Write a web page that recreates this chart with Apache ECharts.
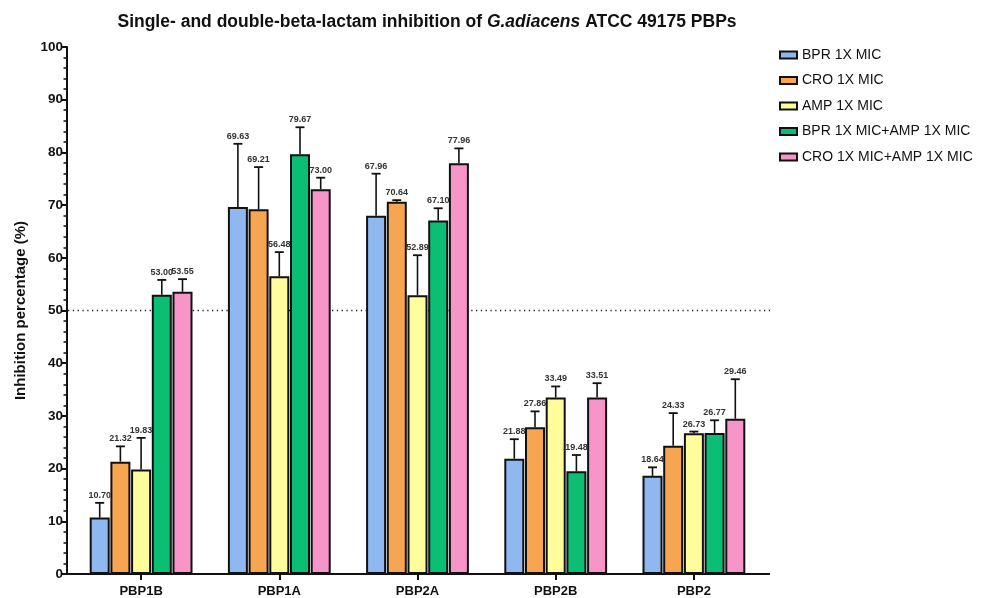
<!DOCTYPE html>
<html><head><meta charset="utf-8">
<script src="https://cdn.jsdelivr.net/npm/echarts@6/dist/echarts.min.js"></script>
<style>html,body{margin:0;padding:0;background:#fff}#c{width:981px;height:598px}</style>
</head><body><div id="c"></div>
<script>
const categories = ['PBP1B', 'PBP1A', 'PBP2A', 'PBP2B', 'PBP2'];
const seriesNames = ['BPR 1X MIC', 'CRO 1X MIC', 'AMP 1X MIC', 'BPR 1X MIC+AMP 1X MIC', 'CRO 1X MIC+AMP 1X MIC'];
const bpr = [10.70, 69.63, 67.96, 21.88, 18.64];
const bprErr = [2.8, 12.0, 8.0, 3.7, 1.6];
const cro = [21.32, 69.21, 70.64, 27.86, 24.33];
const croErr = [2.9, 8.0, 0.3, 3.0, 6.2];
const amp = [19.83, 56.48, 52.89, 33.49, 26.73];
const ampErr = [6.0, 4.6, 7.6, 2.1, 0.3];
const bprAmp = [53.00, 79.67, 67.10, 19.48, 26.77];
const bprAmpErr = [2.8, 5.1, 2.3, 3.1, 2.4];
const croAmp = [53.55, 73.00, 77.96, 33.51, 29.46];
const croAmpErr = [2.4, 2.2, 2.8, 2.7, 7.5];
const yTicks = [0, 10, 20, 30, 40, 50, 60, 70, 80, 90, 100];
const threshold = 50;

const values = [bpr, cro, amp, bprAmp, croAmp];
const errors = [bprErr, croErr, ampErr, bprAmpErr, croAmpErr];
const colors = ['#90B8F0', '#F8A552', '#FFFD9C', '#0CBE74', '#F794C8'];
const FONT = '"Liberation Sans", Arial, sans-serif';
const BAR_W = 20;
const BAR_GAP = 0.035;
const pitch = BAR_W * (1 + BAR_GAP);

const chart = echarts.init(document.getElementById('c'), null, {renderer: 'canvas'});

function makeErr(idx) {
  return function (params, api) {
    const c = api.value(0), v = api.value(1), e = api.value(2);
    const base = api.coord([c, v]);
    const top = api.coord([c, v + e]);
    const x = base[0] + (idx - (values.length - 1) / 2) * pitch;
    return {type: 'group', children: [
      {type: 'line', shape: {x1: x, y1: base[1], x2: x, y2: top[1]}, style: {stroke: '#111', lineWidth: 1.6}},
      {type: 'line', shape: {x1: x - 4.5, y1: top[1], x2: x + 4.5, y2: top[1]}, style: {stroke: '#111', lineWidth: 1.8}},
      {type: 'text', x: x, y: top[1] - 3, style: {text: v.toFixed(2), textAlign: 'center', textVerticalAlign: 'bottom', font: 'bold 9px ' + FONT, fill: '#333'}}
    ]};
  };
}

const series = [];
values.forEach((arr, i) => {
  series.push({
    name: seriesNames[i], type: 'bar', data: arr, barWidth: BAR_W, barGap: (BAR_GAP * 100) + '%',
    itemStyle: {color: colors[i], borderColor: '#111', borderWidth: 2},
    z: 3
  });
});
values.forEach((arr, i) => {
  series.push({
    name: 'err' + i, type: 'custom', renderItem: makeErr(i),
    data: arr.map((v, k) => [k, v, errors[i][k]]),
    encode: {x: 0, y: 1}, z: 4, silent: true
  });
});

chart.setOption({
  animation: false,
  backgroundColor: '#fff',
  title: {
    text: '{b|Single- and double-beta-lactam inhibition of }{i|G.adiacens}{b| ATCC 49175 PBPs}',
    left: 422, top: 8, textAlign: 'center',
    textStyle: {
      rich: {
        b: {fontFamily: FONT, fontWeight: 'bold', fontSize: 17.5, color: '#111'},
        i: {fontFamily: FONT, fontWeight: 'bold', fontStyle: 'italic', fontSize: 17.5, color: '#111'}
      }
    }
  },
  legend: {
    data: seriesNames, orient: 'vertical', left: 774, top: 43,
    itemWidth: 17, itemHeight: 7, itemGap: 11.5,
    textStyle: {fontFamily: FONT, fontSize: 14, color: '#111'},
    icon: 'rect'
  },
  grid: {left: 72, right: 218, top: 47, bottom: 24},
  xAxis: {
    type: 'category', data: categories,
    axisLine: {show: false},
    axisTick: {show: true, alignWithLabel: true, length: 6, lineStyle: {color: '#111', width: 2}},
    axisLabel: {fontFamily: FONT, fontWeight: 'bold', fontSize: 13, color: '#111', margin: 11}
  },
  yAxis: {
    type: 'value', min: 0, max: 100, interval: 10, offset: 5,
    name: 'Inhibition percentage (%)', nameLocation: 'middle', nameGap: 39,
    nameTextStyle: {fontFamily: FONT, fontWeight: 'bold', fontSize: 15, color: '#111'},
    axisLine: {show: true, lineStyle: {color: '#111', width: 2}},
    axisTick: {show: true, length: 6, lineStyle: {color: '#111', width: 2}},
    minorTick: {show: true, splitNumber: 5, length: 3.5, lineStyle: {color: '#111', width: 1.5}},
    splitLine: {show: false},
    axisLabel: {fontFamily: FONT, fontWeight: 'bold', fontSize: 13.5, color: '#111', margin: 4,
      formatter: v => yTicks.includes(v) ? String(v) : ''}
  },
  series: series
});

const y0 = chart.convertToPixel({yAxisIndex: 0}, 0);
const y50 = chart.convertToPixel({yAxisIndex: 0}, threshold);
chart.setOption({
  graphic: [
    {type: 'line', z: 1, shape: {x1: 68, y1: y50, x2: 770, y2: y50}, style: {stroke: '#222', lineWidth: 1.3, lineDash: [1.3, 3.5]}},
    {type: 'line', z: 10, shape: {x1: 66, y1: y0, x2: 770, y2: y0}, style: {stroke: '#111', lineWidth: 2}}
  ]
});
</script></body></html>
